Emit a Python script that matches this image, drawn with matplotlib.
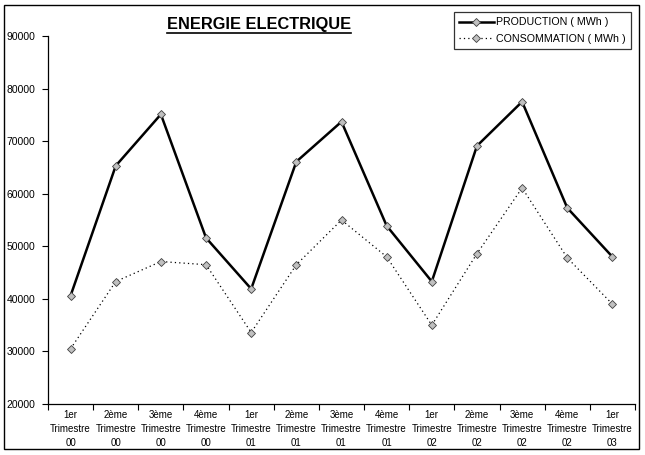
import numpy as np
import matplotlib
matplotlib.use("Agg")
import matplotlib.pyplot as plt
from matplotlib.patches import Rectangle
from matplotlib.lines import Line2D

plt.rcParams['font.family'] = ['Liberation Sans', 'DejaVu Sans']

# donnees
trimestres = ["1er", "2ème", "3ème", "4ème"] * 3 + ["1er"]
annees = ["00"] * 4 + ["01"] * 4 + ["02"] * 4 + ["03"]
production = [40600, 65300, 75100, 51600, 41900, 66100, 73700, 53900, 43300, 69100, 77500, 57300, 48000]
consommation = [30500, 43300, 47100, 46500, 33600, 46500, 55000, 48000, 35000, 48600, 61100, 47800, 39000]
y_ticks = [20000, 30000, 40000, 50000, 60000, 70000, 80000, 90000]

labels = [f"{t}\nTrimestre\n{a}" for t, a in zip(trimestres, annees)]
x = np.arange(len(labels)) + 0.5

fig = plt.figure(figsize=(6.45, 4.55), dpi=100)
ax = fig.add_axes([48 / 645, 1 - 404 / 455, (635 - 48) / 645, (404 - 36) / 455])

ax.plot(x, production, color="black", lw=1.8, marker="D", ms=4.5,
        mfc="#c0c0c0", mec="#404040", mew=0.6, label="PRODUCTION ( MWh )")
ax.plot(x, consommation, color="black", lw=0.9, ls=(0, (1, 2.5)), marker="D", ms=4.5,
        mfc="#c0c0c0", mec="#404040", mew=0.6, label="CONSOMMATION ( MWh )")

ax.set_xlim(0, len(labels))
ax.set_ylim(20000, 90000)
ax.set_yticks(y_ticks)
ax.set_yticklabels([str(v) for v in y_ticks], fontsize=7.5)
ax.set_xticks(np.arange(len(labels) + 1))
ax.set_xticklabels([])
ax.set_xticks(x, minor=True)
ax.set_xticklabels(labels, minor=True, fontsize=7, linespacing=1.55)
ax.tick_params(axis="x", which="minor", length=0, pad=4)
ax.tick_params(axis="x", which="major", length=4, direction="out", width=0.8)
ax.tick_params(axis="y", length=4, width=0.8, pad=5)
for s in ["top", "right"]:
    ax.spines[s].set_visible(False)
for s in ["left", "bottom"]:
    ax.spines[s].set_linewidth(0.9)

leg = fig.legend(loc="upper left", bbox_to_anchor=(454 / 645, 1 - 12 / 455),
                 fontsize=7.7, frameon=True, fancybox=False, handlelength=3.2,
                 borderpad=0.5, labelspacing=0.6, handletextpad=0.2, borderaxespad=0)
leg.get_frame().set_edgecolor("black")
leg.get_frame().set_linewidth(0.9)

title = fig.text(259 / 645, 1 - 25 / 455, "ENERGIE ELECTRIQUE", ha="center", va="center",
                 fontsize=11.8, fontweight="bold")

# soulignement du titre
fig.canvas.draw()
bb = title.get_window_extent().transformed(fig.transFigure.inverted())
fig.add_artist(Line2D([bb.x0, bb.x1], [bb.y0 - 0.002, bb.y0 - 0.002], color="black", lw=1.2,
                      transform=fig.transFigure))

# cadre autour du graphique
fig.add_artist(Rectangle((4 / 645, 1 - 449 / 455), 635 / 645, 444 / 455, fill=False,
                         edgecolor="black", lw=1.0, transform=fig.transFigure))

fig.savefig("out.png", dpi=100)
